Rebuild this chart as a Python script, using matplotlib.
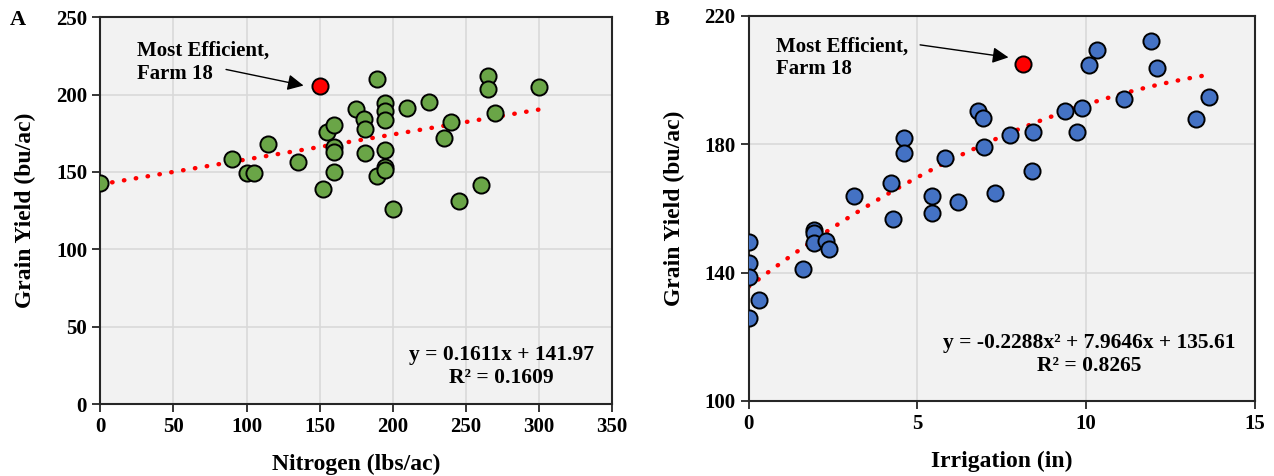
import numpy as np
import matplotlib
matplotlib.use("Agg")
import matplotlib.pyplot as plt

plt.rcParams['font.family'] = ['Liberation Serif', 'DejaVu Serif']
plt.rcParams['font.weight'] = 'bold'

# Panel A: nitrogen rate vs grain yield
nitrogen = [0, 90, 100, 105, 115, 135, 152, 155, 160, 160, 160, 160,
            175, 180, 181, 181, 189, 189, 195, 195, 195, 195, 195, 195,
            200, 210, 225, 235, 240, 245, 260, 265, 265, 270, 300]
yield_a = [143, 158.5, 149.4, 149.4, 168, 156.5, 139.2, 176, 180, 166, 163, 150,
           190.7, 184.2, 177.7, 162, 209.8, 147.2, 194.6, 189.1, 183.7, 164.2, 153.3, 151.5,
           126.1, 191.3, 195, 172.2, 182, 131.5, 141.6, 212.2, 203.5, 187.8, 204.8]

# Panel B: irrigation vs grain yield
irrigation = [11.91, 10.31, 10.08, 12.09, 11.12, 13.64, 13.26, 9.38, 9.89, 9.72,
              6.79, 6.94, 8.44, 7.75, 6.97, 4.60, 4.60, 5.81, 8.41, 4.22,
              7.30, 3.11, 5.43, 6.20, 5.43, 4.29, 1.94, 1.94, 1.92, 2.28,
              2.38, 1.60, 0, 0, 0, 0.31, 0]
yield_b = [212.3, 209.4, 204.6, 203.7, 194.0, 194.7, 187.8, 190.5, 191.2, 183.9,
           190.5, 188.1, 183.9, 182.9, 179.3, 182.1, 177.4, 175.8, 171.8, 167.8,
           164.7, 163.9, 164.0, 162.1, 158.7, 156.6, 153.3, 152.3, 149.1, 149.9,
           147.4, 141.2, 149.5, 142.9, 138.7, 131.5, 125.8]

# Farm 18 (highlighted)
farm18_a = (150, 205.5)
farm18_b = (8.14, 205.0)

# trendline coefficients as printed on the chart
lin_coef = [0.1611, 141.97]
quad_coef = [-0.2288, 7.9646, 135.61]

fig = plt.figure(figsize=(12.74, 4.76), dpi=100)
axA = fig.add_axes([0.0787, 0.151, 0.4018, 0.813])
axB = fig.add_axes([0.5877, 0.1576, 0.3972, 0.8088])

for ax in (axA, axB):
    ax.set_facecolor('#F2F2F2')
    ax.grid(True, color='#D9D9D9', linewidth=1.2)
    ax.set_axisbelow(True)
    for s in ax.spines.values():
        s.set_color('#262626')
        s.set_linewidth(1.5)
    ax.tick_params(direction='out', length=6, width=1.3, labelsize=15, color='#262626')

mk = dict(s=135, edgecolors='black', linewidths=1.4, zorder=3)
arrow = dict(arrowstyle='-|>', color='black', lw=1, mutation_scale=24,
             shrinkA=0, shrinkB=0)

# Panel A
xa = np.linspace(0, 300, 100)
axA.plot(xa, np.polyval(lin_coef, xa), color='red', linewidth=3.2,
         linestyle=(0, (0.1, 2.6)), dash_capstyle='round', zorder=2)
axA.scatter(nitrogen, yield_a, color='#6AA547', **mk)
axA.scatter([farm18_a[0]], [farm18_a[1]], color='#FF0000', **mk)
axA.set_xlim(0, 350)
axA.set_ylim(0, 250)
axA.set_xticks(range(0, 351, 50))
axA.set_yticks(range(0, 251, 50))
axA.set_xlabel('Nitrogen (lbs/ac)', fontsize=17, fontweight='bold', labelpad=12)
axA.set_ylabel('Grain Yield (bu/ac)', fontsize=17, fontweight='bold', labelpad=14)
axA.text(25, 221, 'Most Efficient,\nFarm 18', fontsize=15, fontweight='bold',
         ha='left', va='center')
axA.annotate('', xy=(139, 205.8), xytext=(86, 216.2), arrowprops=arrow)
axA.text(274, 24, 'y = 0.1611x + 141.97\nR² = 0.1609', fontsize=15.5,
         fontweight='bold', ha='center', va='center', multialignment='center')

# Panel B
xb = np.linspace(0, 13.64, 100)
axB.plot(xb, np.polyval(quad_coef, xb), color='red', linewidth=3.2,
         linestyle=(0, (0.1, 2.6)), dash_capstyle='round', zorder=2)
axB.scatter(irrigation, yield_b, color='#4472C4', **mk)
axB.scatter([farm18_b[0]], [farm18_b[1]], color='#FF0000', **mk)
axB.set_xlim(0, 15)
axB.set_ylim(100, 220)
axB.set_xticks(range(0, 16, 5))
axB.set_yticks(range(100, 221, 40))
axB.set_xlabel('Irrigation (in)', fontsize=17, fontweight='bold', labelpad=12)
axB.set_ylabel('Grain Yield (bu/ac)', fontsize=17, fontweight='bold', labelpad=14)
axB.text(0.8, 207, 'Most Efficient,\nFarm 18', fontsize=15, fontweight='bold',
         ha='left', va='center')
axB.annotate('', xy=(7.7, 207.1), xytext=(5.08, 211), arrowprops=arrow)
axB.text(10.1, 114.5, 'y = -0.2288x² + 7.9646x + 135.61\nR² = 0.8265', fontsize=15.5,
         fontweight='bold', ha='center', va='center', multialignment='center')

fig.text(0.008, 0.957, 'A', fontsize=16, fontweight='bold', va='center')
fig.text(0.514, 0.957, 'B', fontsize=16, fontweight='bold', va='center')

fig.savefig('out.png', dpi=100)
